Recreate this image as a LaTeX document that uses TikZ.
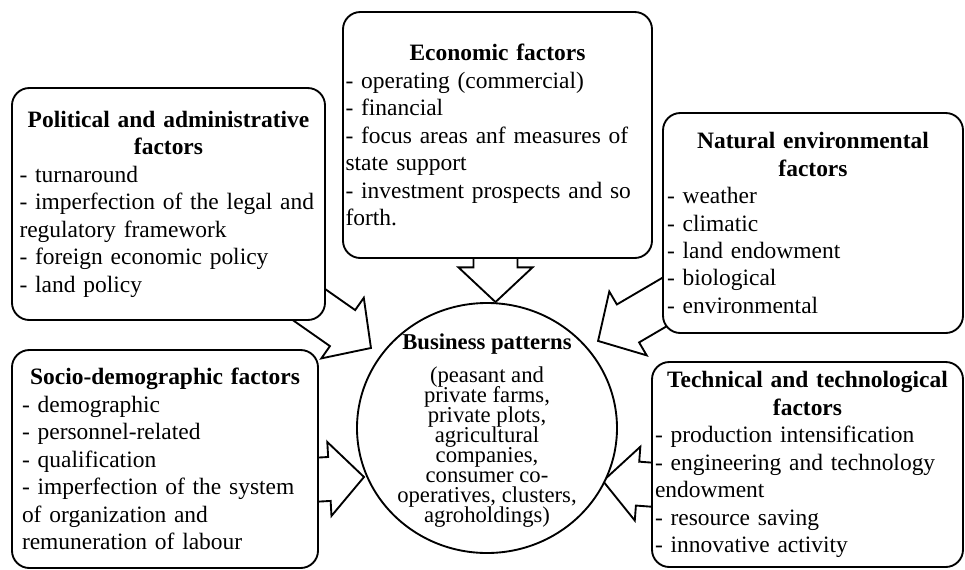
\documentclass[tikz,border=0pt]{standalone}
\usepackage{fontspec}
\setmainfont{Liberation Serif}
\usetikzlibrary{shapes.geometric,calc,backgrounds}

\newcommand{\tightlines}{\lineskiplimit-20pt\relax}
\tikzset{
  factor/.style={draw, line width=1.4pt, rounded corners=13pt, fill=white,
    inner sep=0pt, align=left, font=\fontsize{17.6}{20.6}\selectfont},
  business/.style={ellipse, draw, line width=1.4pt, fill=white,
    minimum width=195pt, minimum height=187.5pt},
  fatarrow/.style={draw, line width=1.4pt, fill=white},
}
% block arrow from #1 (tail) to #2 (tip)
\newcommand{\fatarrow}[2]{%
  \draw[fatarrow] let \p1=(#1), \p2=(#2), \n1={atan2(\y2-\y1,\x2-\x1)},
    \n2={veclen(\x2-\x1,\y2-\y1)}, \n3={\n2-26pt} in
    [shift={(\p1)}, rotate=\n1]
    (0pt,16.5pt) -- (\n3,16.5pt) -- (\n3,27.75pt) -- (\n2,0pt)
    -- (\n3,-27.75pt) -- (\n3,-16.5pt) -- (0pt,-16.5pt) -- cycle;}
\newcommand{\factortitle}[1]{{\centering\bfseries #1\par}}

\begin{document}
\begin{tikzpicture}[x=0.75pt, y=-0.75pt]
  \useasboundingbox (0,0) rectangle (965,569);

  % factor boxes
  \node[factor, minimum width=234.75pt, minimum height=174pt, text width=223.5pt] (pol) at (168.5,204)
    {\factortitle{Political and administrative\\ factors}- turnaround\\ - imperfection of the legal and\\ regulatory framework\\ - foreign economic policy\\ - land policy};
  \node[factor, minimum width=231.75pt, minimum height=184.5pt, text width=228pt] (eco) at (497.5,135)
    {\factortitle{Economic factors}- operating (commercial)\\ - financial\\ - focus areas anf measures of\\ state support\\ - investment prospects and so\\ forth.};
  \node[factor, minimum width=225pt, minimum height=165pt, text width=219pt] (nat) at (813,223)
    {\factortitle{Natural environmental\\ factors}- weather\\ - climatic\\ - land endowment\\ - biological\\ - environmental};
  \node[factor, minimum width=229.5pt, minimum height=163.5pt, text width=214.5pt] (soc) at (165,459)
    {\factortitle{Socio-demographic factors}- demographic\\ - personnel-related\\ - qualification\\ - imperfection of the system\\ of organization and\\ remuneration of labour};
  \node[factor, minimum width=233.25pt, minimum height=153.75pt, text width=228.75pt] (tec) at (807.5,464.5)
    {\factortitle{Technical and technological\\ factors}- production intensification\\ - engineering and technology\\ endowment\\ - resource saving\\ - innovative activity};

  % centre
  \node[business] (bp) at (487,428) {};
  \node[align=center, font=\fontsize{17}{15}\selectfont\tightlines] (bp-text) at ($(bp.center)+(0,3)$)
    {\textbf{Business patterns}\\[9.75pt] (peasant and\\ private farms,\\ private plots,\\ agricultural\\ companies,\\ consumer co-\\ operatives, clusters,\\ agroholdings)};

  % arrow ends
  \coordinate (eco-out) at ($(eco.south)+(-2,-3)$);
  \coordinate (eco-in) at ($(bp.north)+(8.5,0)$);
  \coordinate (pol-out) at ($(pol.south east)+(-25,-22)$);
  \coordinate (pol-in) at ($(bp.center)+(-116,-80)$);
  \coordinate (nat-out) at ($(nat.south west)+(18,-41)$);
  \coordinate (nat-in) at ($(bp.center)+(111,-87)$);
  \coordinate (soc-out) at ($(soc.east)+(-8,21)$);
  \coordinate (soc-in) at ($(bp.center)+(-123,49)$);
  \coordinate (tec-out) at ($(tec.west)+(5,20.5)$);
  \coordinate (tec-in) at ($(bp.center)+(116,53)$);

  \begin{pgfonlayer}{background}
    \fatarrow{eco-out}{eco-in}
    \fatarrow{pol-out}{pol-in}
    \fatarrow{nat-out}{nat-in}
    \fatarrow{soc-out}{soc-in}
    \fatarrow{tec-out}{tec-in}
  \end{pgfonlayer}
\end{tikzpicture}
\end{document}
